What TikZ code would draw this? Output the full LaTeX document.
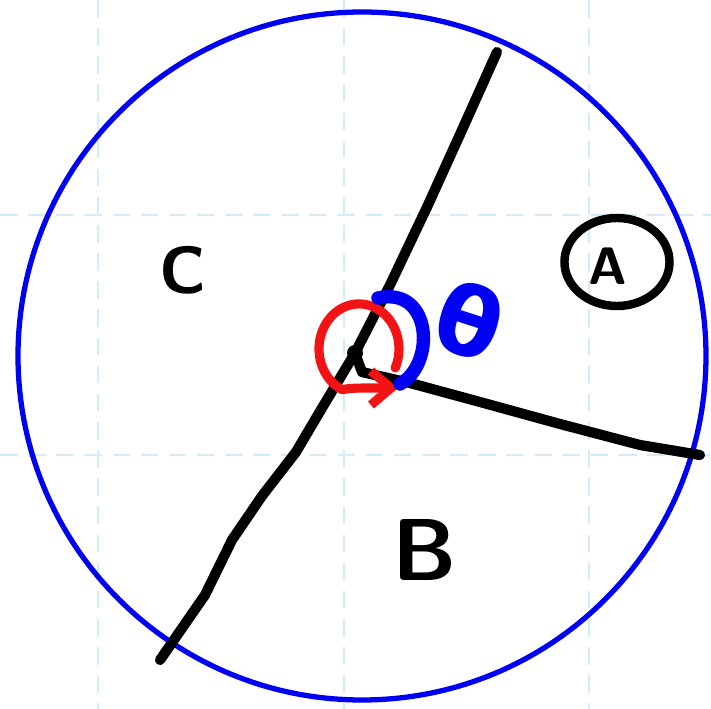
\documentclass[tikz,border=0pt]{standalone}
\usepackage{fontspec}
\usepackage{tikz}
\usetikzlibrary{arrows.meta,shapes.geometric}
\newfontfamily\greekpen{DejaVu Sans}
\definecolor{gridblue}{HTML}{D2ECFA}
\definecolor{penblue}{HTML}{0000F2}
\definecolor{penred}{HTML}{F21414}

\begin{document}
\begin{tikzpicture}[x=0.01cm,y=-0.01cm,
  gridline/.style={draw=gridblue,line width=0.6pt,dash pattern=on 5pt off 3pt},
  rim/.style={draw=penblue,line width=1.5pt},
  spoke/.style={draw=black,line width=2.9pt,line cap=round,line join=round},
  region/.style={font=\sffamily\bfseries\fontsize{19}{19}\selectfont},
  turn/.style={draw=penred,line width=2.6pt,line cap=round,line join=round,
               -{Straight Barb[length=2mm,width=3.4mm]}},
  anglemark/.style={draw=penblue,line width=3.8pt,line cap=round}
]
\useasboundingbox (0,0) rectangle (711,709);
% grid
\foreach \gx in {98,344,589} \draw[gridline] (\gx,0) -- (\gx,709);
\foreach \gy in {215,455} \draw[gridline] (0,\gy) -- (711,\gy);
% disc
\coordinate (O) at (355,353);
\draw[rim] (362,356) circle[radius=344];
% spokes
\coordinate (rimA) at (497,52);
\coordinate (rimR) at (700,455);
\coordinate (rimL) at (160,660);
\draw[spoke] (O) -- (390,285) -- (428,205) -- (462,130) -- (rimA);
\draw[spoke] (O) -- (362,372) -- (410,383) -- (480,402) -- (560,424) -- (640,445) -- (rimR);
\draw[spoke] (O) -- (322,408) -- (296,452) -- (262,496) -- (232,540) -- (205,595) -- (rimL);
\fill (O) circle[radius=8];
% rotation and angle
\coordinate (turnC) at (359,351);
\coordinate (turnE) at (398,388);
\draw[turn] (turnC) ++(25:40) arc[start angle=25,end angle=-245,x radius=40,y radius=45]
  .. controls (352,388) .. (turnE);
\draw[anglemark] (378,298) .. controls (432,286) and (436,364) .. (400,384);
% labels
\node[region] (C) at (183,270) {C};
\node[region,font=\sffamily\bfseries\fontsize{25}{25}\selectfont] (B) at (425,550) {B};
\node[draw,ellipse,line width=2.4pt,minimum width=1.05cm,minimum height=0.88cm] (A) at (617,262) {};
\node[font=\sffamily\bfseries\fontsize{15}{15}\selectfont] (Aname) at (608,266) {A};
\node[text=penblue,rotate=-18,font=\greekpen\bfseries\fontsize{27}{27}\selectfont] (theta) at (470,320) {θ};
\end{tikzpicture}
\end{document}
